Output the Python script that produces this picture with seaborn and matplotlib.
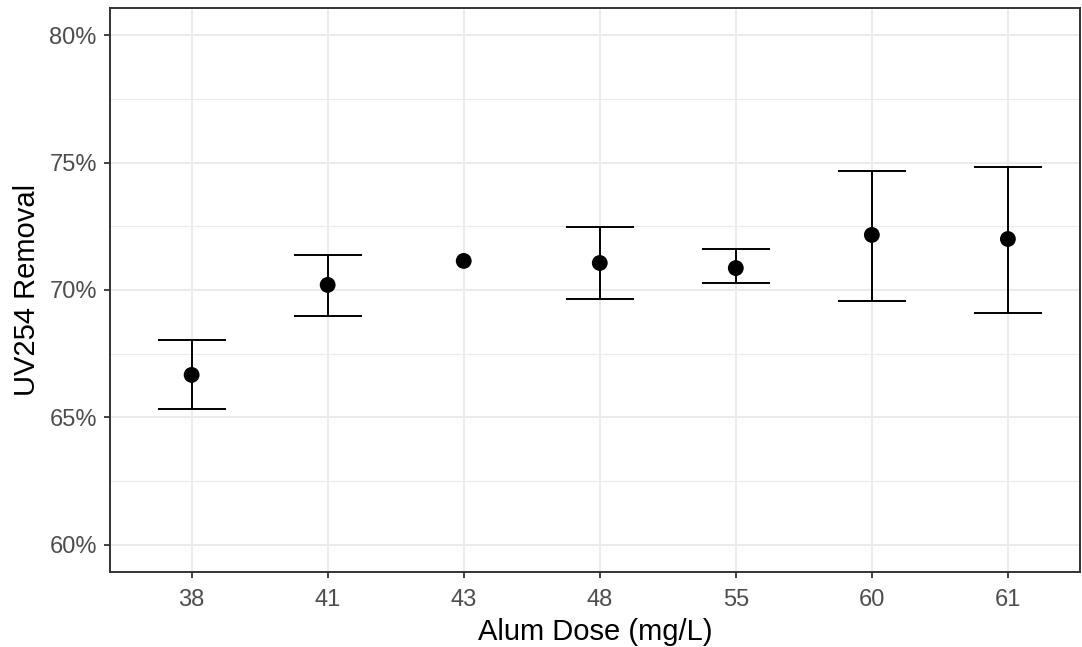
import numpy as np
import pandas as pd
import seaborn as sns
import matplotlib.pyplot as plt
from matplotlib.ticker import FuncFormatter, MultipleLocator

sns.set_theme(style="whitegrid")
plt.rcParams['font.family'] = ['Liberation Sans', 'DejaVu Sans']

doses = ["38", "41", "43", "48", "55", "60", "61"]
removal = [66.67, 70.20, 71.14, 71.06, 70.86, 72.16, 72.00]
err_low = [65.33, 68.98, np.nan, 69.65, 70.27, 69.57, 69.10]
err_high = [68.04, 71.37, np.nan, 72.47, 71.61, 74.67, 74.82]

df = pd.DataFrame({"dose": doses, "removal": removal,
                   "low": err_low, "high": err_high})

fig = plt.figure(figsize=(10.82, 6.47), dpi=100)
ax = fig.add_axes([110 / 1082, 75 / 647, 970 / 1082, 564 / 647])

pos = np.arange(len(doses))
ax.vlines(pos, df["low"], df["high"], color="black", lw=1.4, zorder=3)
ax.hlines(df["low"], pos - 0.25, pos + 0.25, color="black", lw=1.4, zorder=3)
ax.hlines(df["high"], pos - 0.25, pos + 0.25, color="black", lw=1.4, zorder=3)
sns.scatterplot(data=df, x="dose", y="removal", color="black", s=130,
                edgecolor="none", ax=ax, zorder=4)

ax.set_xlim(-0.6, 6.53)
ax.set_ylim(58.94, 81.06)
ax.yaxis.set_major_locator(MultipleLocator(5))
ax.yaxis.set_minor_locator(MultipleLocator(2.5))
ax.yaxis.set_major_formatter(FuncFormatter(lambda v, p: f"{v:.0f}%"))
ax.grid(True, which="major", color="#EBEBEB", lw=1.4)
ax.grid(True, which="minor", axis="y", color="#EBEBEB", lw=0.8)
ax.set_axisbelow(True)

for s in ax.spines.values():
    s.set_color("#333333")
    s.set_linewidth(1.4)

ax.tick_params(axis="both", which="major", length=4.5, width=1.3, color="#333333",
               labelsize=17, labelcolor="#4D4D4D", left=True, bottom=True)
ax.tick_params(axis="x", which="major", pad=8)
ax.tick_params(axis="y", which="major", pad=5)
ax.tick_params(axis="y", which="minor", length=0)
ax.set_xlabel("Alum Dose (mg/L)", fontsize=21, color="black", labelpad=5)
ax.set_ylabel("UV254 Removal", fontsize=21, color="black", labelpad=6)

fig.savefig("out.png", dpi=100)
